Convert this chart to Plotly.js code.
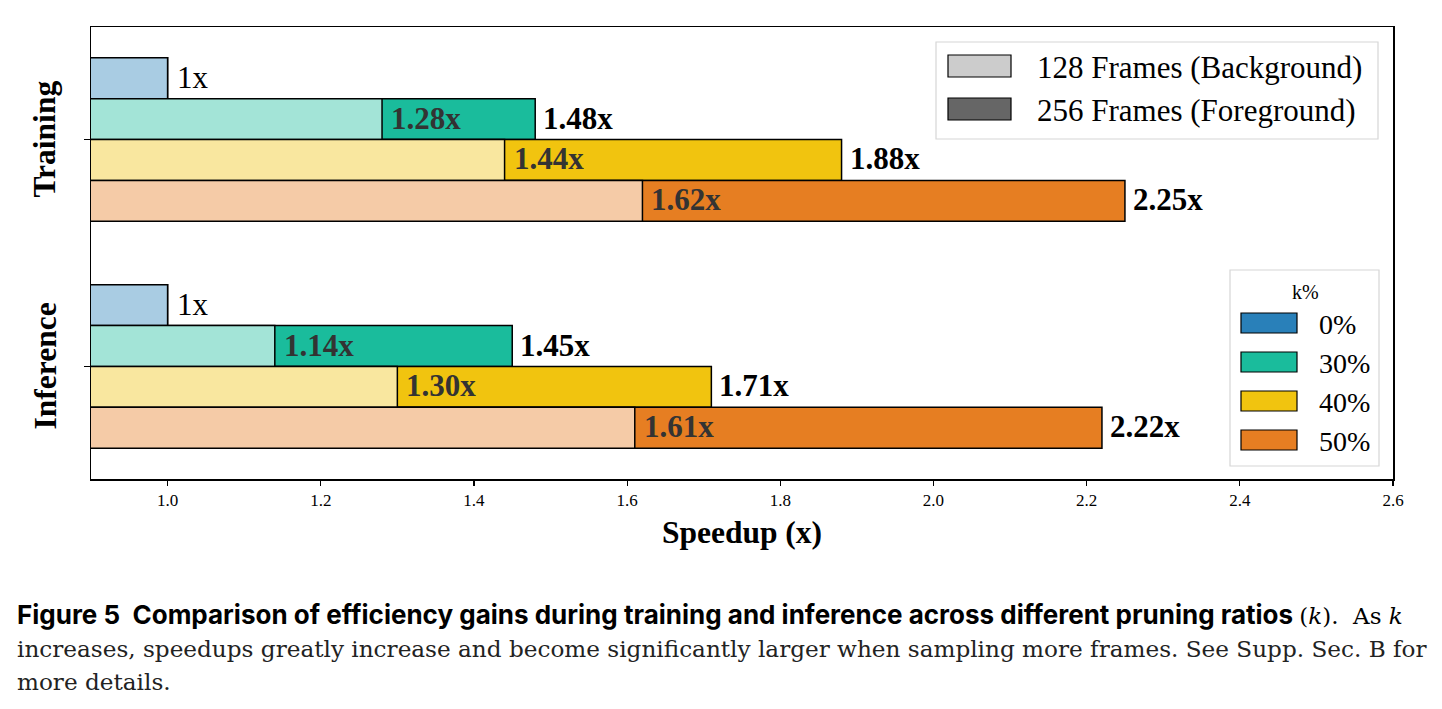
<!DOCTYPE html>
<html>
<head>
<meta charset="utf-8">
<script src="https://cdn.plot.ly/plotly-3.0.1.min.js"></script>
<style>
  html, body { margin: 0; padding: 0; background: #fff; }
  #chart { width: 1442px; height: 709px; }
</style>
</head>
<body>
<div id="chart"></div>
<script>
// Speedup per pruning ratio, for 128 frames (background) and 256 frames (foreground)
const groups = ['Training', 'Inference'];
const groupPos = [1, 0];
const ratios = ['0%', '30%', '40%', '50%'];
const train128 = [1.00, 1.28, 1.44, 1.62];
const train256 = [1.00, 1.48, 1.88, 2.25];
const infer128 = [1.00, 1.14, 1.30, 1.61];
const infer256 = [1.00, 1.45, 1.71, 2.22];
const xTicks = [1.0, 1.2, 1.4, 1.6, 1.8, 2.0, 2.2, 2.4, 2.6];

const darkColors  = ['#2980b9', '#1abc9c', '#f1c40f', '#e67e22'];
const lightColors = ['#a9cce3', '#a3e4d7', '#f9e79f', '#f5cba7'];

const serif = 'Liberation Serif, Times New Roman, serif';
const capSerif = 'DejaVu Serif, serif';
const capSans = 'Inter, Noto Sans, sans-serif';
const barW = 0.18;
const L = 91, R = 1393, T = 27, B = 479;           // plot area in pixels
const px = v => (v - L) / (R - L);
const py = v => (B - v) / (B - T);

const vals128 = [train128, infer128];
const vals256 = [train256, infer256];
const yOf = (g, i) => groupPos[g] + (1.5 - i) * barW;

const traces = [];
// foreground (256 frames) first, background (128 frames) overlaid on top
ratios.forEach((r, i) => {
  traces.push({
    type: 'bar', orientation: 'h', name: '256 ' + r,
    y: groups.map((_, g) => yOf(g, i)),
    x: groups.map((_, g) => vals256[g][i]),
    width: barW,
    marker: { color: darkColors[i], line: { color: '#000', width: 1.5 } },
    hoverinfo: 'x', showlegend: false
  });
});
ratios.forEach((r, i) => {
  traces.push({
    type: 'bar', orientation: 'h', name: '128 ' + r,
    y: groups.map((_, g) => yOf(g, i)),
    x: groups.map((_, g) => vals128[g][i]),
    width: barW,
    marker: { color: lightColors[i], line: { color: '#000', width: 1.5 } },
    hoverinfo: 'x', showlegend: false
  });
});

const annotations = [];
groups.forEach((_, g) => {
  ratios.forEach((r, i) => {
    const y = yOf(g, i);
    const a = vals128[g][i], b = vals256[g][i];
    if (a === b && a === 1) {
      annotations.push({ x: b, y, xref: 'x', yref: 'y', text: '1x', showarrow: false,
        xanchor: 'left', xshift: 7, yshift: 1, font: { family: serif, size: 31, color: '#000' } });
    } else {
      annotations.push({ x: a, y, xref: 'x', yref: 'y', text: '<b>' + a.toFixed(2) + 'x</b>',
        showarrow: false, xanchor: 'left', xshift: 7, yshift: 1, font: { family: serif, size: 31, color: '#333' } });
      annotations.push({ x: b, y, xref: 'x', yref: 'y', text: '<b>' + b.toFixed(2) + 'x</b>',
        showarrow: false, xanchor: 'left', xshift: 6, yshift: 1, font: { family: serif, size: 31, color: '#000' } });
    }
  });
});

// rotated group names beside the y axis
groups.forEach((name, g) => {
  annotations.push({ xref: 'paper', yref: 'y', x: px(45), y: groupPos[g], text: '<b>' + name + '</b>',
    textangle: -90, showarrow: false, xanchor: 'center', yanchor: 'middle',
    font: { family: serif, size: 31.5, color: '#000' } });
});

// legend blocks
const shapes = [];
function box(x0, y0, x1, y1, fill, line, lw) {
  shapes.push({ type: 'rect', xref: 'paper', yref: 'paper',
    x0: px(x0), x1: px(x1), y0: py(y1), y1: py(y0),
    fillcolor: fill, line: { color: line, width: lw } });
}
function label(x, y, text, size, anchor) {
  annotations.push({ xref: 'paper', yref: 'paper', x: px(x), y: py(y), text,
    showarrow: false, xanchor: anchor || 'left', yanchor: 'middle',
    font: { family: serif, size, color: '#000' } });
}
box(936, 42, 1378, 139, 'rgba(255,255,255,0.85)', '#d6d6d6', 1.2);
const frameNames = ['128 Frames (Background)', '256 Frames (Foreground)'];
const frameColors = ['#cccccc', '#666666'];
frameNames.forEach((n, k) => {
  const yc = 66 + k * 43;
  box(948, yc - 11, 1011, yc + 11, frameColors[k], '#000', 1.2);
  label(1035, yc + 1, n, 31);
});

box(1230, 270, 1379, 466, 'rgba(255,255,255,0.85)', '#d6d6d6', 1.2);
label(1305, 292, 'k%', 20, 'center');
ratios.forEach((r, i) => {
  const yc = 323 + i * 39;
  box(1241, yc - 10, 1297, yc + 10, darkColors[i], '#000', 1.2);
  label(1317, yc + 1, r, 28);
});

// caption below the figure
annotations.push({ xref: 'paper', yref: 'paper', x: px(15), y: py(614), xanchor: 'left', yanchor: 'middle',
  showarrow: false, align: 'left',
  text: '<b>Figure 5  Comparison of efficiency gains during training and inference across different pruning ratios </b>' +
        '<span style="font-family:' + capSerif + '; font-size:23px">(<i>k</i>).  As <i>k</i></span>',
  font: { family: capSans, size: 26, color: '#000' } });
annotations.push({ xref: 'paper', yref: 'paper', x: px(15), y: py(649), xanchor: 'left', yanchor: 'middle',
  showarrow: false, align: 'left',
  text: 'increases, speedups greatly increase and become significantly larger when sampling more frames. See Supp. Sec. B for',
  font: { family: capSerif, size: 23.15, color: '#222' } });
annotations.push({ xref: 'paper', yref: 'paper', x: px(15), y: py(682), xanchor: 'left', yanchor: 'middle',
  showarrow: false, align: 'left', text: 'more details.',
  font: { family: capSerif, size: 23.15, color: '#222' } });

const layout = {
  width: 1442, height: 709,
  margin: { l: L, r: 1442 - R, t: T, b: 709 - B },
  paper_bgcolor: '#fff', plot_bgcolor: '#fff',
  barmode: 'overlay', bargap: 0,
  showlegend: false,
  xaxis: {
    range: [0.9, 2.6], tickvals: xTicks, ticktext: xTicks.map(v => v.toFixed(1)),
    ticks: 'outside', ticklen: 5, tickwidth: 1.2, tickcolor: '#000',
    showline: true, linecolor: '#000', linewidth: 1.5, mirror: true,
    showgrid: false, zeroline: false,
    tickfont: { family: serif, size: 17, color: '#000' },
    title: { text: '<b>Speedup (x)</b>', font: { family: serif, size: 31.5, color: '#000' }, standoff: 12 }
  },
  yaxis: {
    range: [-0.496, 1.496], tickvals: groupPos, showticklabels: false,
    ticks: 'outside', ticklen: 6, tickwidth: 1.2, tickcolor: '#000',
    showline: true, linecolor: '#000', linewidth: 1.5, mirror: true,
    showgrid: false, zeroline: false
  },
  shapes, annotations
};

Plotly.newPlot('chart', traces, layout, { displayModeBar: false, staticPlot: true });
</script>
</body>
</html>
